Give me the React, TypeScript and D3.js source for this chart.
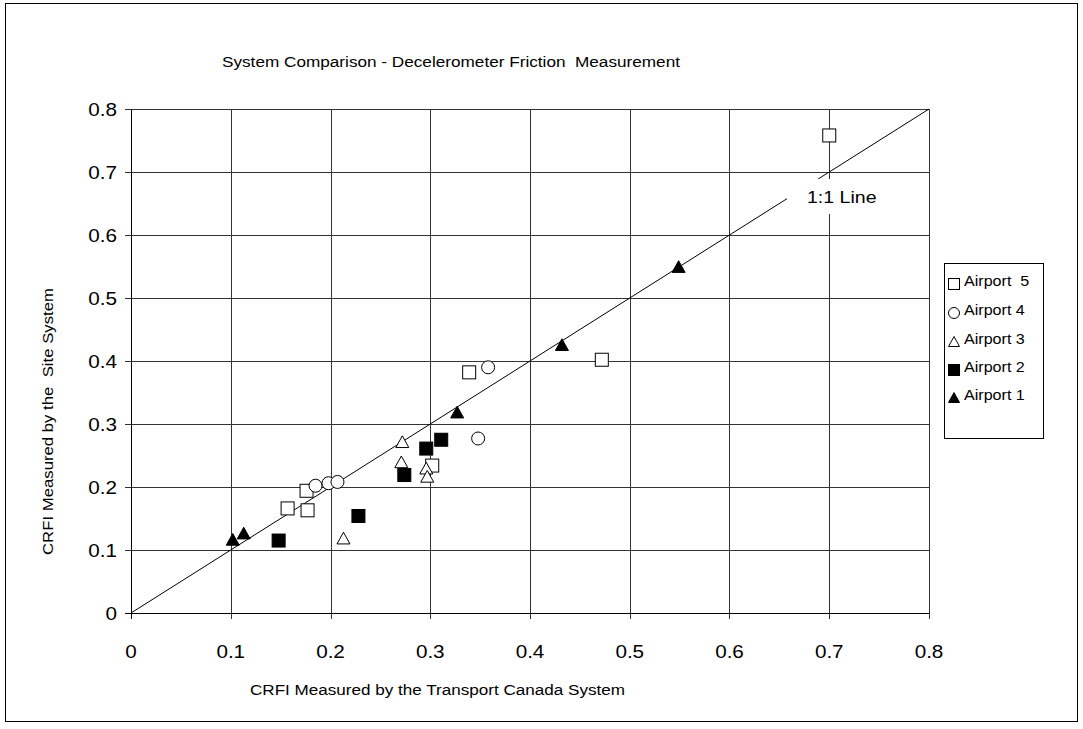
import React from "react";
import * as d3 from "d3";

const chartTitle = "System Comparison - Decelerometer Friction  Measurement";
const xTitle = "CRFI Measured by the Transport Canada System";
const yTitle = "CRFI Measured by the  Site System";
const lineLabel = "1:1 Line";

const xTicks = [0, 0.1, 0.2, 0.3, 0.4, 0.5, 0.6, 0.7, 0.8];
const yTicks = [0, 0.1, 0.2, 0.3, 0.4, 0.5, 0.6, 0.7, 0.8];
const tickLabels = ["0", "0.1", "0.2", "0.3", "0.4", "0.5", "0.6", "0.7", "0.8"];

const airport5: [number, number][] = [
  [0.7, 0.758], [0.472, 0.402], [0.339, 0.382], [0.302, 0.234],
  [0.176, 0.194], [0.157, 0.166], [0.177, 0.163],
];
const airport4: [number, number][] = [
  [0.358, 0.39], [0.348, 0.277], [0.185, 0.202], [0.198, 0.206], [0.207, 0.208],
];
const airport3: [number, number][] = [
  [0.272, 0.271], [0.271, 0.239], [0.296, 0.229], [0.297, 0.216], [0.213, 0.118],
];
const airport2: [number, number][] = [
  [0.311, 0.275], [0.296, 0.261], [0.274, 0.219], [0.228, 0.154], [0.148, 0.115],
];
const airport1: [number, number][] = [
  [0.549, 0.549], [0.432, 0.425], [0.327, 0.318], [0.113, 0.126], [0.102, 0.116],
];
const oneToOne: [number, number][] = [[0, 0], [0.8, 0.8]];

type Shape = "square" | "circle" | "triangle";
const seriesList: { name: string; data: [number, number][]; shape: Shape; filled: boolean }[] = [
  { name: "Airport  5", data: airport5, shape: "square", filled: false },
  { name: "Airport 4", data: airport4, shape: "circle", filled: false },
  { name: "Airport 3", data: airport3, shape: "triangle", filled: false },
  { name: "Airport 2", data: airport2, shape: "square", filled: true },
  { name: "Airport 1", data: airport1, shape: "triangle", filled: true },
];

const FONT = "'Liberation Sans', Arial, sans-serif";

function Marker({ shape, filled, x, y, s }: { shape: Shape; filled: boolean; x: number; y: number; s: number }) {
  const fill = filled ? "#000" : "#fff";
  if (shape === "square")
    return <rect x={x - s / 2} y={y - s / 2} width={s} height={s} fill={fill} stroke="#000" strokeWidth={1} />;
  if (shape === "circle")
    return <circle cx={x} cy={y} r={s / 2} fill={fill} stroke="#000" strokeWidth={1} />;
  const h = s * 0.9;
  const path = `M${x},${y - h * 0.55}L${x + s / 2},${y + h * 0.45}L${x - s / 2},${y + h * 0.45}Z`;
  return <path d={path} fill={fill} stroke="#000" strokeWidth={1} strokeLinejoin="miter" />;
}

export default function App() {
  const W = 1083, H = 729;
  const left = 131, right = 929, top = 109, bottom = 613;
  const x = d3.scaleLinear().domain([0, 0.8]).range([left, right]);
  const y = d3.scaleLinear().domain([0, 0.8]).range([bottom, top]);
  const line = d3.line<[number, number]>().x((d) => x(d[0])).y((d) => y(d[1]));
  const cx = (v: number) => Math.round(x(v)) + 0.5;
  const cy = (v: number) => Math.round(y(v)) + 0.5;

  const legendX = 944, legendY = 263, legendW = 99, legendH = 175;
  const rowY = [281, 310, 339, 367, 395];

  return (
    <svg width={W} height={H} style={{ position: "absolute", left: 0, top: 0, fontFamily: FONT }}>
      <rect x={0} y={0} width={W} height={H} fill="#fff" />
      <rect x={5.5} y={3.5} width={1072} height={718} fill="none" stroke="#000" strokeWidth={1} />

      <text x={222} y={67} fontSize={14} fill="#000" textLength={458} lengthAdjust="spacingAndGlyphs" style={{ whiteSpace: "pre" }}>
        {chartTitle}
      </text>

      {/* grid */}
      {xTicks.slice(1).map((t) => (
        <line key={"gx" + t} x1={cx(t)} x2={cx(t)} y1={top} y2={bottom + 6} stroke="#333" strokeWidth={1} />
      ))}
      {yTicks.slice(1).map((t) => (
        <line key={"gy" + t} x1={left - 6} x2={right} y1={cy(t)} y2={cy(t)} stroke="#333" strokeWidth={1} />
      ))}
      {/* axes */}
      <line x1={cx(0)} x2={cx(0)} y1={top} y2={bottom + 6} stroke="#000" strokeWidth={1} />
      <line x1={left - 6} x2={right} y1={cy(0)} y2={cy(0)} stroke="#000" strokeWidth={1} />

      {/* 1:1 line */}
      <path d={line(oneToOne) || ""} fill="none" stroke="#000" strokeWidth={1} />
      <rect x={787} y={179} width={94} height={35} fill="#fff" />
      <text transform={`translate(807,203) scale(1.15,1)`} fontSize={17} fill="#000">{lineLabel}</text>

      {/* tick labels */}
      {yTicks.map((t, i) => (
        <text key={"yl" + t} transform={`translate(117,${y(t) + 6.5}) scale(1.15,1)`} fontSize={18} textAnchor="end" fill="#000">
          {tickLabels[i]}
        </text>
      ))}
      {xTicks.map((t, i) => (
        <text key={"xl" + t} transform={`translate(${x(t)},${658}) scale(1.15,1)`} fontSize={18} textAnchor="middle" fill="#000">
          {tickLabels[i]}
        </text>
      ))}

      <text x={250} y={695} fontSize={14} fill="#000" textLength={375} lengthAdjust="spacingAndGlyphs">{xTitle}</text>
      <text
        transform={`translate(53,${555}) rotate(-90)`}
        fontSize={14}
        fill="#000"
        textLength={267}
        lengthAdjust="spacingAndGlyphs"
        style={{ whiteSpace: "pre" }}
      >
        {yTitle}
      </text>

      {/* data */}
      {seriesList.map((s) => (
        <g key={s.name}>
          {s.data.map((d, i) => (
            <Marker key={i} shape={s.shape} filled={s.filled} x={x(d[0])} y={y(d[1])} s={13} />
          ))}
        </g>
      ))}

      {/* legend */}
      <rect x={legendX + 0.5} y={legendY + 0.5} width={legendW} height={legendH} fill="#fff" stroke="#000" strokeWidth={1} />
      {seriesList.map((s, i) => (
        <g key={"lg" + s.name}>
          <Marker shape={s.shape} filled={s.filled} x={954} y={rowY[i] + 3} s={11} />
          <text transform={`translate(964,${rowY[i] + 5}) scale(1.15,1)`} fontSize={14} fill="#000" style={{ whiteSpace: "pre" }}>
            {s.name}
          </text>
        </g>
      ))}
    </svg>
  );
}
